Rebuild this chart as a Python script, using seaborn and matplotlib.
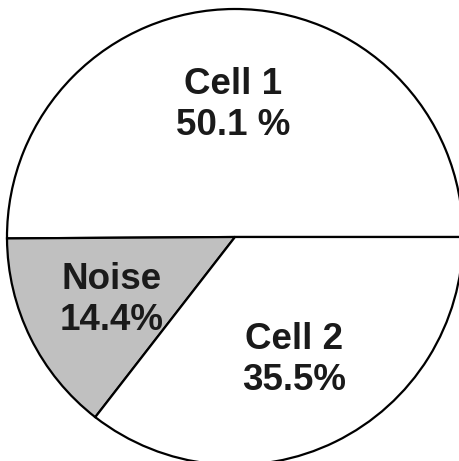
import matplotlib
matplotlib.use("Agg")
import matplotlib.pyplot as plt
import seaborn as sns

# Data
categories = ["Cell 1", "Noise", "Cell 2"]
values = [50.1, 14.4, 35.5]
pct_labels = ["50.1 %", "14.4%", "35.5%"]
colors = ["#ffffff", "#c0c0c0", "#ffffff"]

sns.set_theme(style="white")
plt.rcParams['font.family'] = ['Liberation Sans', 'DejaVu Sans']

fig = plt.figure(figsize=(4.59, 4.61), dpi=100)
ax = fig.add_axes([0, 0, 1, 1])
ax.pie(values, colors=colors, startangle=0, counterclock=True,
       center=(235, 224), radius=228,
       wedgeprops=dict(edgecolor="black", linewidth=1.6))
ax.set_xlim(0, 459)
ax.set_ylim(0, 461)
ax.set_aspect('auto')
ax.axis('off')

label_pos = [(233, 356), (112, 161), (294, 101)]
for cat, pct, (x, y) in zip(categories, pct_labels, label_pos):
    ax.text(x, y, f"{cat}\n{pct}", ha="center", va="center",
            multialignment="center", fontsize=26.5, fontweight="bold",
            linespacing=1.2, color="#1a1a1a")

fig.savefig("out.png", dpi=100)
